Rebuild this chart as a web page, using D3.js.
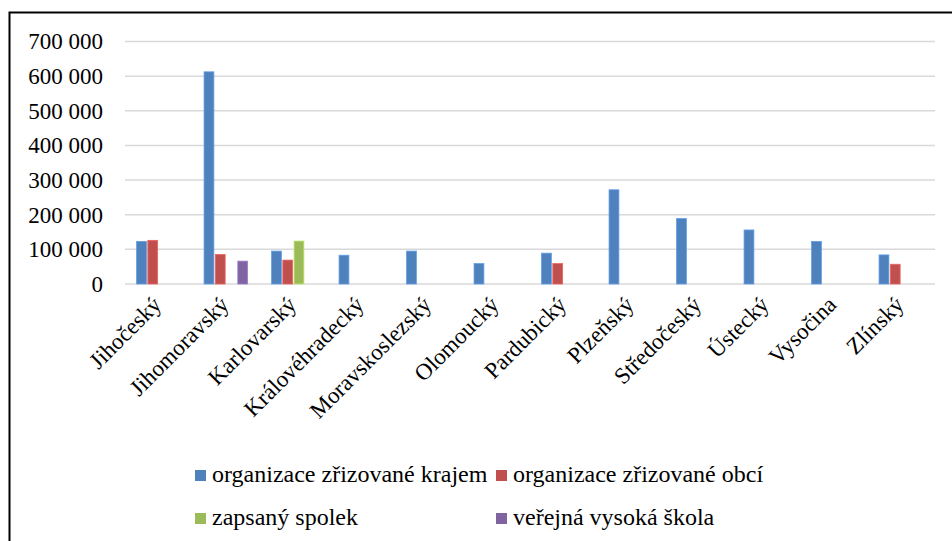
<!DOCTYPE html>
<html><head><meta charset="utf-8">
<script src="https://cdn.jsdelivr.net/npm/d3@7"></script>
<style>body{margin:0;background:#fff}svg{display:block}</style>
</head><body>
<svg id="c" width="952" height="541"></svg>
<script>
const categories = ["Jihočeský","Jihomoravský","Karlovarský","Královéhradecký","Moravskoslezský","Olomoucký","Pardubický","Plzeňský","Středočeský","Ústecký","Vysočina","Zlínský"];
const seriesNames = ["organizace zřizované krajem","organizace zřizované obcí","zapsaný spolek","veřejná vysoká škola"];
const seriesColors = ["#4f81bd","#c0504d","#9bbb59","#8064a2"];
const krajem = [123000,612500,95000,83000,95000,59000,89000,272000,189000,156000,123000,84000];
const obci = [126000,85000,69000,null,null,null,59000,null,null,null,null,57000];
const spolek = [null,null,124000,null,null,null,null,null,null,null,null,null];
const vs = [null,66000,null,null,null,null,null,null,null,null,null,null];
const yTicks = [0,100000,200000,300000,400000,500000,600000,700000];
const values = [krajem, obci, spolek, vs];

(function(){
const svg = d3.select("#c");
const font = "Liberation Serif";
const pL = 125, pR = 935, pT = 41.5, pB = 284;

// border
svg.append("rect").attr("x",9.5).attr("y",12.5).attr("width",1000).attr("height",600)
  .attr("fill","none").attr("stroke","#000").attr("stroke-width",2);

const x0 = d3.scaleBand().domain(categories).range([pL,pR]).paddingInner(0).paddingOuter(0);
const x1 = d3.scaleBand().domain(d3.range(4)).range([0,x0.bandwidth()]).paddingInner(0).paddingOuter(1);
const y = d3.scaleLinear().domain([0,700000]).range([pB,pT]);

// gridlines
svg.append("g").selectAll("line").data(yTicks).join("line")
  .attr("x1",pL).attr("x2",pR)
  .attr("y1",d=>y(d)).attr("y2",d=>y(d))
  .attr("stroke","#d9d9d9").attr("stroke-width",1.5);

// y axis labels
const fmt = d => d3.format(",")(d).replace(/,/g," ");
const yAxis = d3.axisLeft(y).tickValues(yTicks).tickFormat(fmt).tickSize(0).tickPadding(0);
const ga = svg.append("g").attr("transform","translate(103,0)").call(yAxis);
ga.attr("font-family",font).attr("font-size",23);
ga.select(".domain").remove();
ga.selectAll("text").attr("font-family",font).attr("font-size",23).attr("fill","#000");

// bars
values.forEach((vals,si)=>{
  svg.append("g").selectAll("rect").data(categories.map((c,i)=>({c,v:vals[i]})).filter(d=>d.v!=null))
    .join("rect")
    .attr("x",d=>x0(d.c)+x1(si)+0.3)
    .attr("width",x1.bandwidth()-1.4)
    .attr("y",d=>y(d.v))
    .attr("height",d=>y(0)-y(d.v))
    .attr("fill",seriesColors[si])
    .attr("stroke",d3.color(seriesColors[si]).brighter(0.6))
    .attr("stroke-width",0.8);
});

// category labels
const xAxis = d3.axisBottom(x0).tickSize(0).tickPadding(0);
const gx = svg.append("g").attr("transform",`translate(0,${pB})`).call(xAxis);
gx.attr("font-family",font).attr("font-size",23);
gx.select(".domain").remove();
gx.selectAll("text")
  .attr("font-family",font).attr("font-size",23).attr("fill","#000")
  .attr("text-anchor","end").attr("dy",0).attr("y",0)
  .attr("transform","translate(4,22) rotate(-45)");

// legend
const legPos = [[195,482],[496,482],[195,525],[496,525]];
const leg = svg.append("g").selectAll("g").data(seriesNames).join("g")
  .attr("transform",(d,i)=>`translate(${legPos[i][0]},${legPos[i][1]})`);
leg.append("rect").attr("x",0).attr("y",-12).attr("width",11).attr("height",11)
  .attr("fill",(d,i)=>seriesColors[i]);
leg.append("text").attr("x",17).attr("y",0).text(d=>d)
  .attr("font-family",font).attr("font-size",24).attr("fill","#000");
})();
</script>
</body></html>
